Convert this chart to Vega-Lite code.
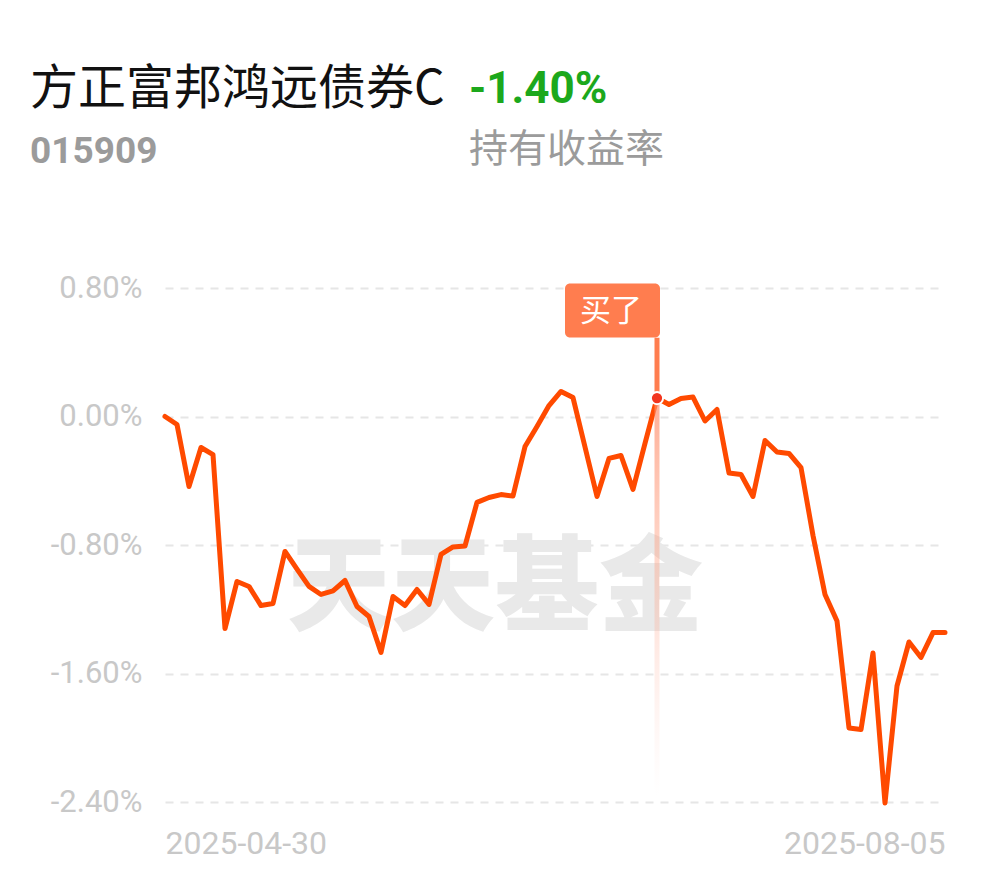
{
  "$schema": "https://vega.github.io/schema/vega-lite/v6.json",
  "autosize": {"type": "none"},
  "padding": {"left": 165, "top": 180, "right": 825, "bottom": 698},
  "background": "white",
  "config": {"view": {"stroke": null}},
  "datasets": {
    "nav": [
      {"date": "2025-04-30", "value": 0.0},
      {"date": "2025-05-06", "value": -0.05},
      {"date": "2025-05-07", "value": -0.436},
      {"date": "2025-05-08", "value": -0.193},
      {"date": "2025-05-09", "value": -0.237},
      {"date": "2025-05-12", "value": -1.32},
      {"date": "2025-05-13", "value": -1.027},
      {"date": "2025-05-14", "value": -1.058},
      {"date": "2025-05-15", "value": -1.177},
      {"date": "2025-05-16", "value": -1.164},
      {"date": "2025-05-19", "value": -0.84},
      {"date": "2025-05-20", "value": -0.95},
      {"date": "2025-05-21", "value": -1.058},
      {"date": "2025-05-22", "value": -1.108},
      {"date": "2025-05-23", "value": -1.086},
      {"date": "2025-05-26", "value": -1.021},
      {"date": "2025-05-27", "value": -1.183},
      {"date": "2025-05-28", "value": -1.245},
      {"date": "2025-05-29", "value": -1.469},
      {"date": "2025-05-30", "value": -1.121},
      {"date": "2025-06-03", "value": -1.177},
      {"date": "2025-06-04", "value": -1.077},
      {"date": "2025-06-05", "value": -1.17},
      {"date": "2025-06-06", "value": -0.859},
      {"date": "2025-06-09", "value": -0.812},
      {"date": "2025-06-10", "value": -0.806},
      {"date": "2025-06-11", "value": -0.535},
      {"date": "2025-06-12", "value": -0.504},
      {"date": "2025-06-13", "value": -0.486},
      {"date": "2025-06-16", "value": -0.495},
      {"date": "2025-06-17", "value": -0.187},
      {"date": "2025-06-18", "value": -0.062},
      {"date": "2025-06-19", "value": 0.068},
      {"date": "2025-06-20", "value": 0.156},
      {"date": "2025-06-23", "value": 0.118},
      {"date": "2025-06-24", "value": -0.19},
      {"date": "2025-06-25", "value": -0.498},
      {"date": "2025-06-26", "value": -0.261},
      {"date": "2025-06-27", "value": -0.243},
      {"date": "2025-06-30", "value": -0.454},
      {"date": "2025-07-01", "value": -0.168},
      {"date": "2025-07-02", "value": 0.115},
      {"date": "2025-07-03", "value": 0.075},
      {"date": "2025-07-04", "value": 0.112},
      {"date": "2025-07-07", "value": 0.121},
      {"date": "2025-07-08", "value": -0.028},
      {"date": "2025-07-09", "value": 0.044},
      {"date": "2025-07-10", "value": -0.352},
      {"date": "2025-07-11", "value": -0.361},
      {"date": "2025-07-14", "value": -0.498},
      {"date": "2025-07-15", "value": -0.149},
      {"date": "2025-07-16", "value": -0.221},
      {"date": "2025-07-17", "value": -0.23},
      {"date": "2025-07-18", "value": -0.318},
      {"date": "2025-07-21", "value": -0.741},
      {"date": "2025-07-22", "value": -1.108},
      {"date": "2025-07-23", "value": -1.273},
      {"date": "2025-07-24", "value": -1.939},
      {"date": "2025-07-25", "value": -1.949},
      {"date": "2025-07-28", "value": -1.472},
      {"date": "2025-07-29", "value": -2.406},
      {"date": "2025-07-30", "value": -1.678},
      {"date": "2025-07-31", "value": -1.404},
      {"date": "2025-08-01", "value": -1.5},
      {"date": "2025-08-04", "value": -1.345},
      {"date": "2025-08-05", "value": -1.345}
    ],
    "buy": [
      {"date": "2025-07-02", "value": 0.115, "label": "买了"}
    ],
    "mark": [
      {"label": "天天基金"}
    ]
  },
  "spacing": 108,
  "bounds": "flush",
  "vconcat": [
    {
      "spacing": 0,
      "bounds": "flush",
      "hconcat": [
        {
          "width": 305,
          "height": 1,
          "data": {"values": []},
          "mark": "point",
          "title": {
            "text": "方正富邦鸿远债券C",
            "subtitle": "015909",
            "anchor": "start",
            "frame": "group",
            "dx": -135,
            "offset": 10,
            "font": "Noto Sans CJK SC",
            "fontSize": 48,
            "fontWeight": "normal",
            "color": "#111111",
            "subtitleFont": "Roboto",
            "subtitleFontSize": 37,
            "subtitleFontWeight": "bold",
            "subtitleColor": "#9b9b9b",
            "subtitlePadding": 20
          }
        },
        {
          "width": 300,
          "height": 1,
          "data": {"values": []},
          "mark": "point",
          "title": {
            "text": "-1.40%",
            "subtitle": "持有收益率",
            "anchor": "start",
            "frame": "group",
            "dx": -1,
            "offset": 10,
            "font": "Roboto",
            "fontSize": 44,
            "fontWeight": "bold",
            "color": "#1ca81c",
            "subtitleFont": "Noto Sans CJK SC",
            "subtitleFontSize": 39,
            "subtitleFontWeight": "normal",
            "subtitleColor": "#9b9b9b",
            "subtitlePadding": 19
          }
        }
      ]
    },
    {
      "width": 780,
      "height": 514,
      "layer": [
        {
          "data": {"name": "mark"},
          "mark": {"type": "text", "font": "Noto Sans CJK SC", "fontWeight": 900, "fontSize": 104, "color": "#e9e9e9", "baseline": "middle", "align": "center", "dx": 6},
          "encoding": {
            "x": {"datum": "2025-06-12", "type": "ordinal", "scale": {"type": "point", "padding": 0}},
            "y": {"datum": -1.09, "type": "quantitative"},
            "text": {"field": "label"}
          }
        },
        {
          "data": {"name": "nav"},
          "mark": {"type": "line", "color": "#ff4a00", "strokeWidth": 5, "strokeJoin": "round", "strokeCap": "round"},
          "encoding": {
            "x": {
              "field": "date", "type": "ordinal", "sort": "ascending",
              "scale": {"type": "point", "padding": 0},
              "axis": {
                "values": ["2025-04-30", "2025-08-05"],
                "labelAlign": {"condition": {"test": "datum.value === '2025-04-30'", "value": "left"}, "value": "right"},
                "labelAngle": 0,
                "labelFont": "Roboto",
                "labelFontSize": 32,
                "labelColor": "#c8c8c8",
                "labelPadding": 26,
                "labelBaseline": "top",
                "domain": false,
                "ticks": false,
                "grid": false,
                "title": null
              }
            },
            "y": {
              "field": "value", "type": "quantitative",
              "scale": {"domain": [-2.4, 0.8], "nice": false, "zero": false},
              "axis": {
                "values": [-2.4, -1.6, -0.8, 0, 0.8],
                "labelExpr": "(datum.value < 0 ? '-' : '') + format(abs(datum.value), '.2f') + '%'",
                "labelFont": "Roboto",
                "labelFontSize": 31,
                "labelColor": "#c8c8c8",
                "labelPadding": 23,
                "domain": false,
                "ticks": false,
                "grid": true,
                "gridColor": "#e6e6e6",
                "gridWidth": 2,
                "gridDash": [8, 7],
                "title": null
              }
            }
          }
        },
        {
          "data": {"name": "buy"},
          "mark": {
            "type": "bar",
            "width": 5,
            "color": {
              "gradient": "linear", "x1": 0, "y1": 0, "x2": 0, "y2": 1,
              "stops": [
                {"offset": 0, "color": "rgba(255,125,79,1)"},
                {"offset": 0.13, "color": "rgba(255,125,79,1)"},
                {"offset": 0.135, "color": "rgba(255,140,105,0.7)"},
                {"offset": 0.5, "color": "rgba(255,160,130,0.4)"},
                {"offset": 1, "color": "rgba(255,200,190,0)"}
              ]
            }
          },
          "encoding": {
            "x": {"field": "date", "type": "ordinal", "scale": {"type": "point", "padding": 0}},
            "y": {"datum": 0.49, "type": "quantitative"},
            "y2": {"datum": -2.366}
          }
        },
        {
          "data": {"name": "buy"},
          "mark": {"type": "point", "filled": true, "fill": "#f2361f", "stroke": "white", "strokeWidth": 2, "size": 150, "opacity": 1},
          "encoding": {
            "x": {"field": "date", "type": "ordinal", "scale": {"type": "point", "padding": 0}},
            "y": {"field": "value", "type": "quantitative"}
          }
        },
        {
          "data": {"name": "buy"},
          "mark": {"type": "bar", "width": 95, "xOffset": -44.5, "color": "#ff7d4f", "cornerRadius": 5},
          "encoding": {
            "x": {"field": "date", "type": "ordinal", "scale": {"type": "point", "padding": 0}},
            "y": {"datum": 0.828, "type": "quantitative"},
            "y2": {"datum": 0.492}
          }
        },
        {
          "data": {"name": "buy"},
          "mark": {"type": "text", "dx": -46, "font": "Noto Sans CJK SC", "fontSize": 31, "color": "white", "baseline": "middle", "align": "center"},
          "encoding": {
            "x": {"field": "date", "type": "ordinal", "scale": {"type": "point", "padding": 0}},
            "y": {"datum": 0.648, "type": "quantitative"},
            "text": {"field": "label"}
          }
        }
      ]
    }
  ]
}
